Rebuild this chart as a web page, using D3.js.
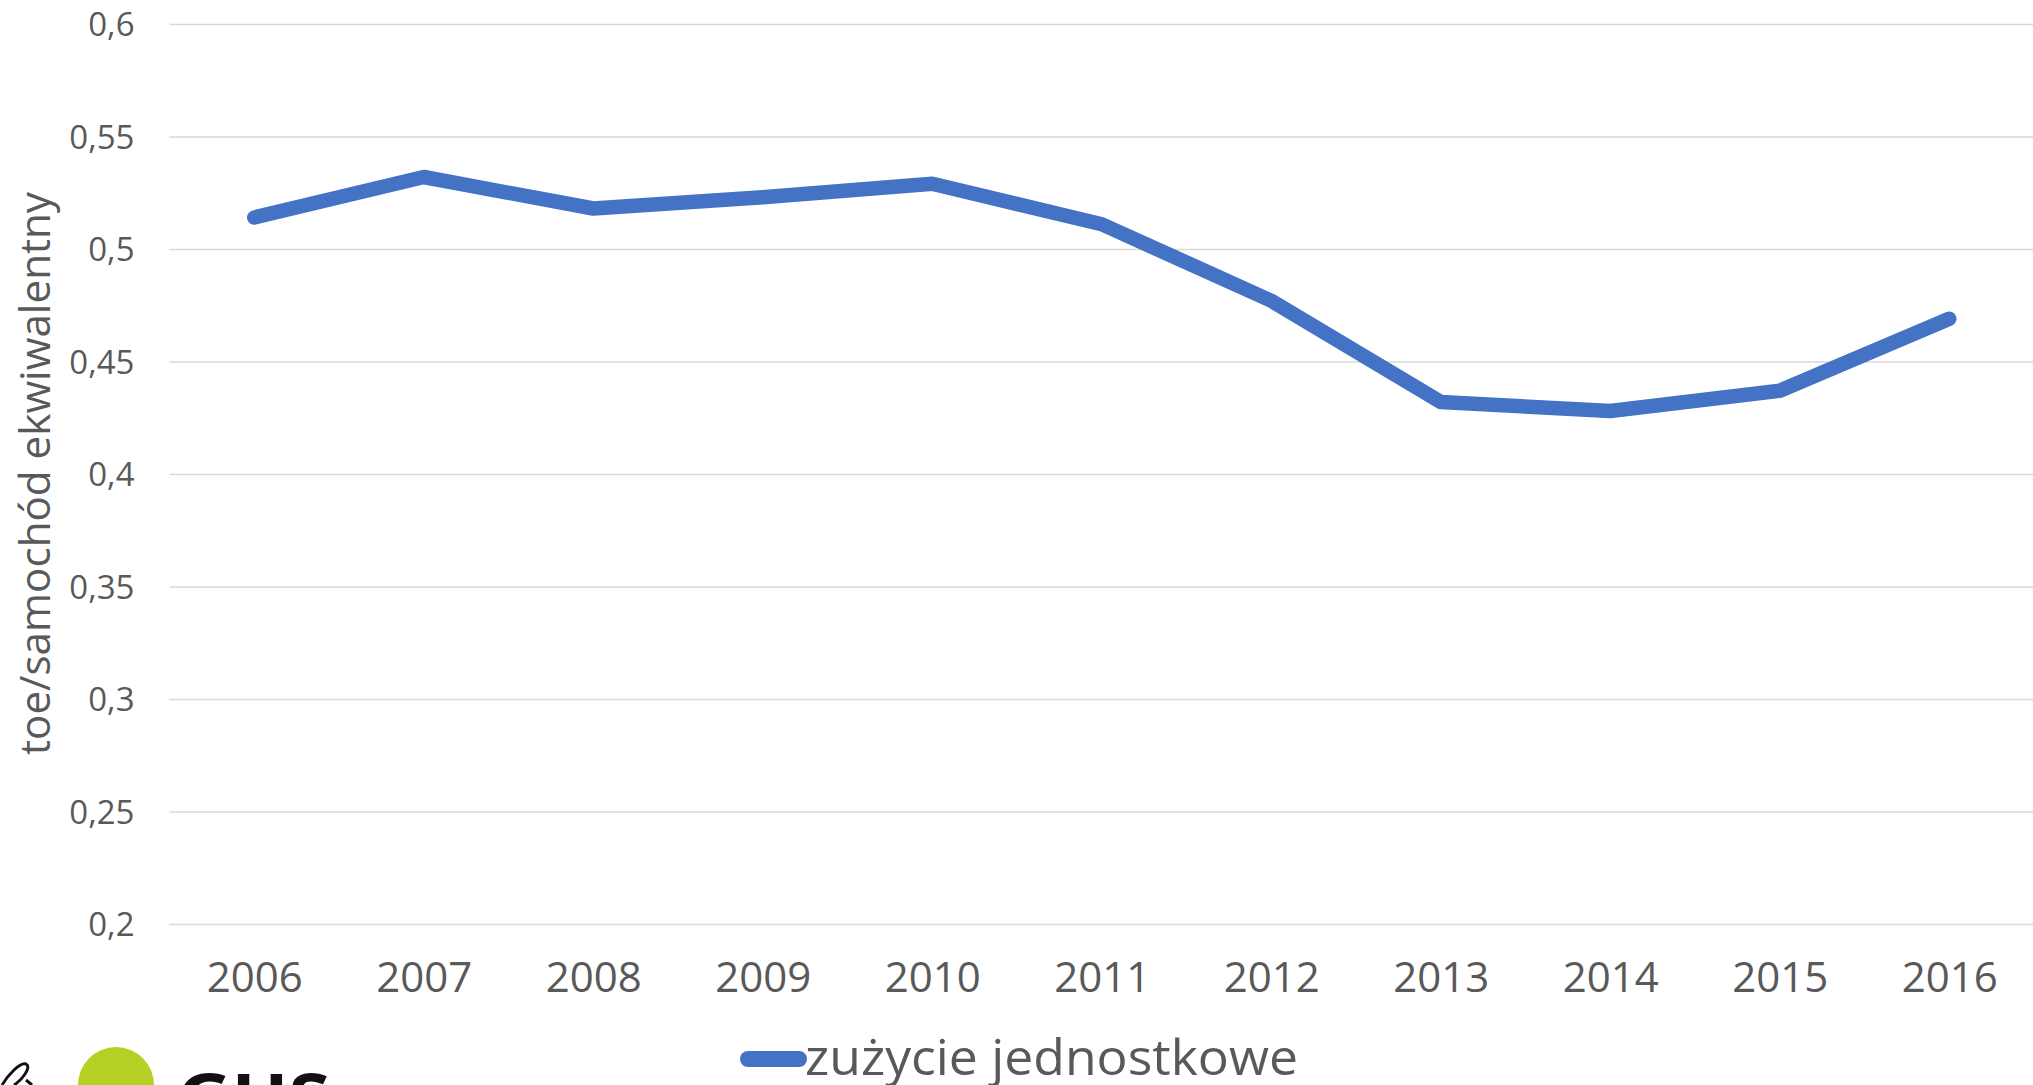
<!DOCTYPE html>
<html>
<head>
<meta charset="utf-8">
<script src="https://cdn.jsdelivr.net/npm/d3@7"></script>
<style>
  body { margin: 0; background: #fff; overflow: hidden; }
  text { font-family: "Open Sans", "Noto Sans", sans-serif; fill: #595959; }
</style>
</head>
<body>
<script>
// Data
const years = ['2006', '2007', '2008', '2009', '2010', '2011', '2012', '2013', '2014', '2015', '2016'];
const consumption = [0.514, 0.532, 0.518, 0.523, 0.529, 0.511, 0.477, 0.432, 0.428, 0.437, 0.469];
const yTicks = [0.2, 0.25, 0.3, 0.35, 0.4, 0.45, 0.5, 0.55, 0.6];
const seriesName = 'zużycie jednostkowe';
const yTitle = 'toe/samochód ekwiwalentny';

const W = 2033, H = 1085;
const LEFT = 169.5, RIGHT = 2034;
const TOP = 24, BOTTOM = 924;
const BLUE = '#4472C4';

const svg = d3.select('body')
  .append('svg')
    .attr('width', W)
    .attr('height', H);

const x = d3.scalePoint().domain(years).range([LEFT, RIGHT]).padding(0.5);
const y = d3.scaleLinear().domain([0.2, 0.6]).range([BOTTOM, TOP]);

const fmt = v => String(+v.toFixed(2)).replace('.', ',');

// gridlines + y labels
const yAxis = d3.axisLeft(y)
  .tickValues(yTicks)
  .tickSize(-(RIGHT - LEFT))
  .tickPadding(35)
  .tickFormat(fmt);

svg.append('g')
    .attr('transform', 'translate(' + LEFT + ',0)')
    .call(yAxis)
    .call(g => g.select('.domain').remove())
    .call(g => g.selectAll('.tick line').attr('stroke', '#D9D9D9').attr('stroke-width', 1.5))
    .call(g => g.selectAll('.tick text')
      .attr('font-size', '33px')
      .attr('fill', '#595959')
      .attr('font-family', '"Open Sans", sans-serif')
      .attr('dy', '0.36em'));

// x labels
const xAxis = d3.axisBottom(x).tickSize(0).tickPadding(0);
svg.append('g')
    .attr('transform', 'translate(0,' + BOTTOM + ')')
    .call(xAxis)
    .call(g => g.select('.domain').remove())
    .call(g => g.selectAll('.tick text')
      .attr('font-size', '42px')
      .attr('fill', '#595959')
      .attr('font-family', '"Open Sans", sans-serif')
      .attr('dy', null)
      .attr('y', 68));

// y title
svg.append('text')
    .attr('transform', 'translate(50,' + ((TOP + BOTTOM) / 2 - 0.5) + ') rotate(-90)')
    .attr('text-anchor', 'middle')
    .attr('font-size', '42px')
    .attr('textLength', 563)
    .attr('lengthAdjust', 'spacingAndGlyphs')
    .text(yTitle);

// the series
const line = d3.line()
  .x((d, i) => x(years[i]))
  .y(d => y(d));

svg.append('path')
    .datum(consumption)
    .attr('fill', 'none')
    .attr('stroke', BLUE)
    .attr('stroke-width', 14.5)
    .attr('stroke-linecap', 'round')
    .attr('stroke-linejoin', 'round')
    .attr('d', line);

// legend
const legend = svg.append('g').attr('transform', 'translate(0,1059)');
legend.append('line')
    .attr('x1', 748).attr('x2', 799)
    .attr('y1', 0).attr('y2', 0)
    .attr('stroke', BLUE)
    .attr('stroke-width', 16)
    .attr('stroke-linecap', 'round');
legend.append('text')
    .attr('x', 805)
    .attr('y', 16)
    .attr('font-size', '50px')
    .attr('textLength', 493)
    .attr('lengthAdjust', 'spacingAndGlyphs')
    .text(seriesName);

// cropped logo in the corner
const logo = svg.append('g');
logo.append('circle')
    .attr('cx', 116).attr('cy', 1085)
    .attr('r', 38)
    .attr('fill', '#B5D125');
logo.append('text')
    .attr('x', 177).attr('y', 1122)
    .attr('font-size', '66px')
    .attr('font-weight', 'bold')
    .attr('textLength', 153)
    .attr('lengthAdjust', 'spacingAndGlyphs')
    .style('fill', '#111')
    .text('GUS');
logo.append('path')
    .attr('d', 'M2,1085 C8,1075 20,1062 26,1064 C32,1067 22,1080 14,1085 M26,1080 L32,1085')
    .attr('fill', 'none')
    .attr('stroke', '#111')
    .attr('stroke-width', 3);
</script>
</body>
</html>
